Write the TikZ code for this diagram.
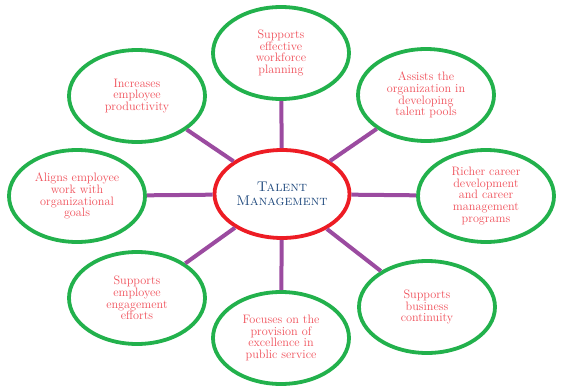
\documentclass[tikz,border=0pt]{standalone}
\usepackage{xcolor}
\usepackage{tikz}
\usetikzlibrary{positioning, shapes.geometric}

\definecolor{ringgreen}{RGB}{34,177,76}
\definecolor{hubred}{RGB}{237,28,36}
\definecolor{spokepurple}{RGB}{155,75,160}
\definecolor{labelpink}{RGB}{240,80,90}
\definecolor{hubblue}{RGB}{31,73,125}

\begin{document}
\begin{tikzpicture}[
    x=1pt, y=-1pt,
    benefit/.style={ellipse, draw=ringgreen, line width=3.8pt, fill=white, minimum width=136pt, minimum height=92pt,
        inner sep=0pt, align=center, text=labelpink, font=\fontsize{12.2}{11.8}\selectfont},
    hub/.style={ellipse, draw=hubred, line width=3.8pt, fill=white, minimum width=135pt, minimum height=88pt,
        inner sep=0pt, align=center, text=hubblue, font=\fontsize{14}{13.5}\selectfont\scshape},
    spoke/.style={draw=spokepurple, line width=4pt}
]
    \useasboundingbox (0,0) rectangle (566,391);

    \node[hub] (talent) at (282,194) {Talent\\Management};

    \node[benefit] (planning) at (281,53) {Supports\\effective\\workforce\\planning};
    \node[benefit] (productivity) at (137,96) {Increases\\employee\\productivity};
    \node[benefit] (pools) at (426,95) {Assists the\\organization in\\developing\\talent pools};
    \node[benefit] (goals) at (77,196) {Aligns employee\\work with\\organizational\\goals};
    \node[benefit] (career) at (486,196) {Richer career\\development\\and career\\management\\programs};
    \node[benefit] (engagement) at (137,298) {Supports\\employee\\engagement\\efforts};
    \node[benefit] (excellence) at (281,338) {Focuses on the\\provision of\\excellence in\\public service};
    \node[benefit] (continuity) at (427,307) {Supports\\business\\continuity};

    \draw[spoke] (talent) -- (planning);
    \draw[spoke] (talent) -- (productivity);
    \draw[spoke] (talent) -- (pools);
    \draw[spoke] (talent) -- (goals);
    \draw[spoke] (talent) -- (career);
    \draw[spoke] (talent) -- (engagement);
    \draw[spoke] (talent) -- (excellence);
    \draw[spoke] (talent) -- (continuity);
\end{tikzpicture}
\end{document}
